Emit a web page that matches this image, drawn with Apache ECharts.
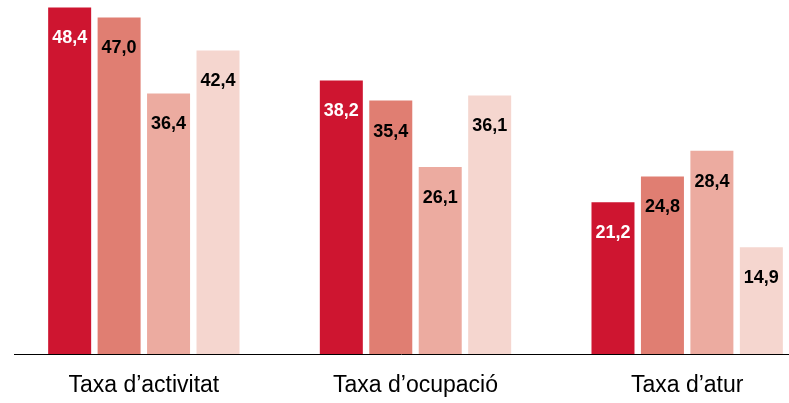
<!DOCTYPE html>
<html>
<head>
<meta charset="utf-8">
<script src="https://cdn.jsdelivr.net/npm/echarts@6/dist/echarts.min.js"></script>
<style>
  html, body { margin: 0; padding: 0; background: #fff; }
  #chart { width: 789px; height: 403px; }
</style>
</head>
<body>
<div id="chart"></div>
<script>
var categories = ["Taxa d\u2019activitat", "Taxa d\u2019ocupaci\u00f3", "Taxa d\u2019atur"];
var serie1 = [48.4, 38.2, 21.2];
var serie2 = [47.0, 35.4, 24.8];
var serie3 = [36.4, 26.1, 28.4];
var serie4 = [42.4, 36.1, 14.9];

var colors = ["#ce1530", "#e07e72", "#ecaba0", "#f5d6cf"];
var labelColors = ["#fff", "#000", "#000", "#000"];

function fmt(v) {
  return v.toFixed(1).replace(".", ",");
}

var series = [serie1, serie2, serie3, serie4].map(function (data, i) {
  return {
    type: "bar",
    data: data,
    barWidth: 43,
    barGap: "15%",
    itemStyle: { color: colors[i] },
    label: {
      show: true,
      position: "insideTop",
      distance: 22,
      color: labelColors[i],
      fontFamily: "Liberation Sans, Arial, sans-serif",
      fontWeight: "bold",
      fontSize: 18,
      formatter: function (p) { return fmt(p.value); }
    }
  };
});

var chart = echarts.init(document.getElementById("chart"));
chart.setOption({
  animation: false,
  grid: {
    left: 8, top: -4, right: -34, bottom: 49,
    containLabel: false,
    outerBoundsMode: "none"
  },
  xAxis: {
    type: "category",
    data: categories,
    axisLine: { show: false },
    axisTick: { show: false },
    axisLabel: {
      color: "#000",
      fontFamily: "Liberation Sans, Arial, sans-serif",
      fontSize: 23,
      margin: 20
    }
  },
  yAxis: {
    type: "value",
    min: 0,
    max: 50,
    show: false,
    splitLine: { show: false }
  },
  graphic: [{
    type: "line",
    z: 10,
    shape: { x1: 14, y1: 354.5, x2: 789, y2: 354.5 },
    style: { stroke: "#000", lineWidth: 1 }
  }],
  series: series
});
</script>
</body>
</html>
